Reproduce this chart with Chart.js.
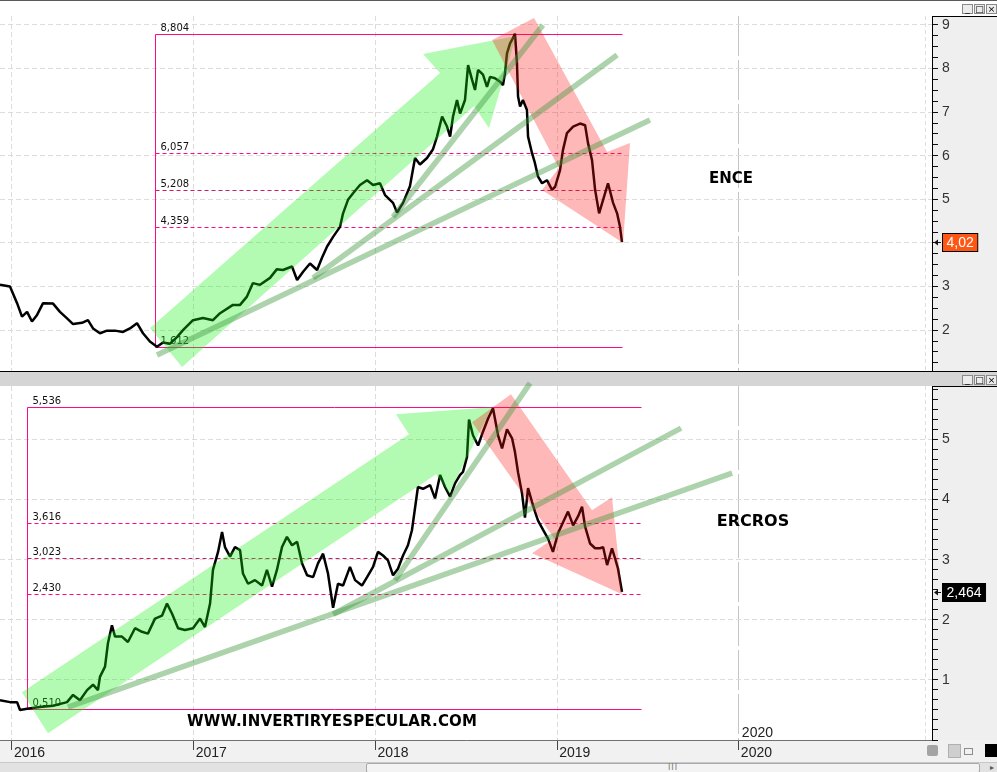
<!DOCTYPE html>
<html>
<head>
<meta charset="utf-8">
<title>ENCE / ERCROS</title>
<script src="https://cdn.jsdelivr.net/npm/chart.js@4.4.1/dist/chart.umd.min.js"></script>
<style>
  html, body { margin: 0; padding: 0; background: #fff; }
  #wrap { position: relative; width: 997px; height: 772px; overflow: hidden; background: #fff; }
  #wrap canvas { position: absolute; left: 0; }
  #topLine { position: absolute; left: 0; top: 0; width: 997px; height: 1px; background: #5a5a5a; }
  #sep { position: absolute; left: 0; top: 371px; width: 997px; height: 1px; background: #000; }
  .btns { position: absolute; left: 962px; width: 35px; height: 10px; }
  .btns span { position: absolute; top: 0; width: 9px; height: 8px; border: 1px solid #8a8a8a; background: #ececec;
               font: 9px/8px 'DejaVu Sans', sans-serif; text-align: center; color: #000; }
  #icons div { position: absolute; }
  #scroll { position: absolute; left: 0; top: 762px; width: 997px; height: 10px; background: #e2e2e2; border-top: 1px solid #c8c8c8; }
  #thumb { position: absolute; left: 366px; top: 0; width: 612px; height: 8px; background: #f3f3f3; border: 1px solid #a8a8a8; border-radius: 2px;
           font: 8px/8px 'DejaVu Sans', sans-serif; color: #777; }
  #thumb span { position: absolute; left: 301px; top: 0; letter-spacing: 1px; }
  #scroll .arr { position: absolute; left: 990px; top: 0; font: 8px/9px 'DejaVu Sans', sans-serif; color: #555; }
</style>
</head>
<body>
<div id="wrap">
  <div id="topLine"></div>
  <canvas id="topChart" width="997" height="372" style="top:0"></canvas>
  <canvas id="botChart" width="997" height="390" style="top:372px"></canvas>
  <div id="sep"></div>
  <div class="btns" style="top:4px"><span style="left:0">_</span><span style="left:12px">□</span><span style="left:24px">×</span></div>
  <div class="btns" style="top:375px"><span style="left:0">_</span><span style="left:12px">□</span><span style="left:24px">×</span></div>
  <div id="icons">
    <div style="left:927px;top:745px;width:11px;height:11px;background:#a4a4a4;border-radius:2px"></div>
    <div style="left:948px;top:744px;width:11px;height:12px;background:#cfcfcf;border:1px solid #b0b0b0"></div>
    <div style="left:964px;top:748px;width:7px;height:5px;border:1px solid #8c8c8c"></div>
    <div style="left:985px;top:744px;width:12px;height:13px;background:#000"></div>
  </div>
  <div id="scroll"><div id="thumb"><span>III</span></div><span class="arr">&#9656;</span></div>
</div>

<script>
// ENCE, cierre aproximado (fecha en años decimales)
const enceDates = [
  2015.934, 2015.989, 2016.028, 2016.055, 2016.083, 2016.110, 2016.138, 2016.171, 2016.226, 2016.264,
  2016.303, 2016.336, 2016.385, 2016.418, 2016.446, 2016.484, 2016.523, 2016.567, 2016.611, 2016.649,
  2016.688, 2016.721, 2016.759, 2016.798, 2016.831, 2016.870, 2016.908, 2016.941, 2016.996, 2017.051,
  2017.106, 2017.145, 2017.216, 2017.255, 2017.293, 2017.326, 2017.365, 2017.420, 2017.458, 2017.491,
  2017.541, 2017.569, 2017.602, 2017.640, 2017.679, 2017.706, 2017.734, 2017.767, 2017.805, 2017.822,
  2017.849, 2017.877, 2017.915, 2017.954, 2017.987, 2018.025, 2018.053, 2018.097, 2018.119, 2018.152,
  2018.190, 2018.218, 2018.245, 2018.284, 2018.317, 2018.339, 2018.367, 2018.394, 2018.411, 2018.427,
  2018.449, 2018.466, 2018.493, 2018.510, 2018.532, 2018.548, 2018.565, 2018.592, 2018.614, 2018.631,
  2018.658, 2018.686, 2018.702, 2018.713, 2018.724, 2018.741, 2018.757, 2018.768, 2018.779, 2018.785,
  2018.796, 2018.812, 2018.834, 2018.840, 2018.862, 2018.878, 2018.895, 2018.917, 2018.944, 2018.972,
  2018.989, 2019.016, 2019.032, 2019.054, 2019.088, 2019.126, 2019.154, 2019.170, 2019.192, 2019.209,
  2019.231, 2019.253, 2019.280, 2019.308, 2019.330, 2019.346, 2019.357
];
const enceClose = [
  3.04, 3.00, 2.62, 2.31, 2.42, 2.20, 2.35, 2.62, 2.61, 2.42,
  2.27, 2.14, 2.17, 2.23, 2.04, 1.93, 1.99, 1.99, 1.96, 2.04,
  2.16, 1.93, 1.74, 1.62, 1.72, 1.69, 1.84, 2.00, 2.23, 2.28,
  2.23, 2.39, 2.58, 2.58, 2.77, 3.08, 3.04, 3.20, 3.40, 3.38,
  3.46, 3.15, 3.34, 3.53, 3.38, 3.66, 3.92, 4.14, 4.37, 4.68,
  4.99, 5.14, 5.33, 5.44, 5.33, 5.37, 5.10, 4.92, 4.70, 4.92,
  5.30, 5.95, 5.80, 5.95, 6.15, 6.44, 6.90, 6.67, 6.44, 6.90,
  7.28, 6.97, 7.28, 8.08, 7.74, 7.51, 7.97, 7.86, 7.58, 7.81,
  7.78, 7.70, 7.62, 7.89, 8.35, 8.58, 8.70, 8.80, 8.12, 7.36,
  7.13, 7.28, 7.05, 6.44, 6.06, 5.83, 5.52, 5.37, 5.44, 5.22,
  5.29, 5.67, 6.13, 6.52, 6.67, 6.74, 6.70, 6.29, 5.90, 5.22,
  4.68, 4.99, 5.37, 4.92, 4.68, 4.37, 4.02
];

// ERCROS, cierre aproximado
const ercrosDates = [
  2015.934, 2015.989, 2016.028, 2016.044, 2016.083, 2016.154, 2016.226, 2016.303, 2016.336, 2016.374,
  2016.413, 2016.446, 2016.473, 2016.484, 2016.512, 2016.528, 2016.550, 2016.567, 2016.605, 2016.638,
  2016.677, 2016.715, 2016.748, 2016.787, 2016.826, 2016.853, 2016.881, 2016.914, 2016.952, 2016.996,
  2017.035, 2017.062, 2017.090, 2017.106, 2017.134, 2017.156, 2017.172, 2017.200, 2017.227, 2017.255,
  2017.271, 2017.299, 2017.337, 2017.376, 2017.403, 2017.431, 2017.458, 2017.486, 2017.513, 2017.541,
  2017.569, 2017.596, 2017.624, 2017.657, 2017.684, 2017.712, 2017.739, 2017.767, 2017.794, 2017.822,
  2017.860, 2017.888, 2017.926, 2017.954, 2017.987, 2018.014, 2018.042, 2018.069, 2018.097, 2018.124,
  2018.152, 2018.179, 2018.201, 2018.218, 2018.234, 2018.262, 2018.301, 2018.328, 2018.356, 2018.383,
  2018.411, 2018.438, 2018.466, 2018.482, 2018.504, 2018.515, 2018.537, 2018.565, 2018.592, 2018.620,
  2018.647, 2018.675, 2018.697, 2018.724, 2018.752, 2018.768, 2018.785, 2018.807, 2018.823, 2018.840,
  2018.862, 2018.878, 2018.895, 2018.922, 2018.950, 2018.977, 2019.005, 2019.032, 2019.060, 2019.088,
  2019.115, 2019.137, 2019.154, 2019.181, 2019.209, 2019.236, 2019.253, 2019.275, 2019.302, 2019.319,
  2019.335, 2019.357
];
const ercrosClose = [
  0.66, 0.63, 0.63, 0.50, 0.52, 0.55, 0.57, 0.63, 0.75, 0.66,
  0.83, 0.92, 0.83, 1.05, 1.22, 1.61, 1.91, 1.72, 1.72, 1.63,
  1.86, 1.80, 1.77, 2.02, 2.07, 2.27, 2.10, 1.86, 1.83, 1.86,
  2.02, 1.88, 2.27, 2.83, 3.13, 3.46, 3.21, 3.05, 3.21, 3.16,
  2.77, 2.60, 2.66, 2.57, 2.83, 2.55, 2.83, 3.21, 3.38, 3.24,
  3.30, 2.94, 2.74, 2.71, 2.94, 3.10, 2.77, 2.20, 2.60, 2.57,
  2.88, 2.66, 2.57, 2.71, 2.88, 3.13, 3.07, 2.99, 2.74, 2.85,
  3.07, 3.24, 3.49, 3.86, 4.21, 4.18, 4.24, 4.02, 4.41, 4.21,
  4.05, 4.27, 4.41, 4.46, 4.71, 5.33, 5.07, 4.90, 5.13, 5.35,
  5.52, 5.07, 4.85, 5.17, 5.02, 4.79, 4.45, 4.10, 3.70, 4.19,
  3.96, 3.80, 3.65, 3.50, 3.35, 3.13, 3.44, 3.62, 3.80, 3.57,
  3.72, 3.88, 3.55, 3.27, 3.19, 3.19, 3.21, 2.91, 3.19, 3.02,
  2.85, 2.464
];

const yearTicks = [2016, 2017, 2018, 2019, 2020];

// retrocesos de Fibonacci: niveles y tramo de fechas que cubren
const enceFib = [8.804, 6.057, 5.208, 4.359, 1.612];
const enceFibSpan = [2016.787, 2019.357];
const ercrosFib = [5.536, 3.616, 3.023, 2.430, 0.510];
const ercrosFibSpan = [2016.080, 2019.462];

// flechas y directrices dibujadas a mano (fecha, precio)
const enceUpArrow = [[2016.760, 2.050], [2018.356, 7.899], [2018.262, 8.335], [2018.774, 8.748], [2018.625, 6.638], [2018.543, 7.142], [2016.936, 1.156]];
const enceDownArrow = [[2018.642, 8.656], [2018.873, 9.161], [2019.275, 6.087], [2019.401, 6.294], [2019.363, 4.000], [2018.917, 5.216], [2019.010, 5.720]];
const enceTrends = [[[2016.798, 1.431], [2019.511, 6.821]], [[2017.657, 3.197], [2019.330, 8.312]], [[2018.097, 4.596], [2018.922, 9.000]]];
const ercrosUpArrow = [[2016.055, 0.795], [2018.185, 5.088], [2018.113, 5.421], [2018.642, 5.537], [2018.405, 4.107], [2018.334, 4.423], [2016.198, 0.113]];
const ercrosDownArrow = [[2018.532, 5.288], [2018.746, 5.754], [2019.192, 3.824], [2019.302, 4.040], [2019.357, 2.426], [2018.862, 3.108], [2018.983, 3.358]];
const ercrosTrends = [[[2016.308, 0.546], [2019.963, 4.439]], [[2017.767, 2.093], [2019.682, 5.188]], [[2018.108, 2.659], [2018.851, 5.937]]];

const X_MIN = 2015.934, X_MAX = 2021.063;
const FONT = "'Liberation Sans', Arial, sans-serif";

function toPx(chart, p) {
  return [chart.scales.x.getPixelForValue(p[0]), chart.scales.y.getPixelForValue(p[1])];
}

function fillPoly(ctx, chart, pts, color) {
  ctx.beginPath();
  pts.forEach(function (p, i) {
    const q = toPx(chart, p);
    if (i) ctx.lineTo(q[0], q[1]); else ctx.moveTo(q[0], q[1]);
  });
  ctx.closePath();
  ctx.fillStyle = color;
  ctx.fill();
}

// caption stretched to the width it takes in the original
function spacedText(ctx, text, cx, cy, width) {
  const w = ctx.measureText(text).width;
  const hasLS = 'letterSpacing' in ctx;
  const gap = hasLS ? Math.max(0, (width - w) / (text.length - 1)) : 0;
  if (hasLS) ctx.letterSpacing = gap + 'px';
  ctx.textAlign = 'left';
  ctx.textBaseline = 'middle';
  ctx.fillText(text, cx - (w + gap * (text.length - 1)) / 2, cy);
  if (hasLS) ctx.letterSpacing = '0px';
}

function panelPlugin(o) {
  return {
    id: 'panel',
    beforeDraw(chart) {
      const ctx = chart.ctx, ca = chart.chartArea, W = chart.width, H = chart.height;
      ctx.save();
      if (o.header) {
        ctx.fillStyle = '#d5d5d5';
        ctx.fillRect(0, 0, W, ca.top);
      }
      ctx.fillStyle = '#efefef';
      ctx.fillRect(ca.right, ca.top, W - ca.right, ca.bottom - ca.top);
      ctx.fillStyle = '#000';
      ctx.fillRect(ca.right, ca.top, W - ca.right, 1);
      if (H - ca.bottom > 2) {
        ctx.fillStyle = '#f1f1f1';
        ctx.fillRect(0, ca.bottom, W, H - ca.bottom);
      }
      ctx.restore();
    },
    beforeDatasetsDraw(chart) {
      const ctx = chart.ctx, ca = chart.chartArea;
      const xs = chart.scales.x, ys = chart.scales.y;
      ctx.save();
      // faint dashed line near the price axis
      ctx.strokeStyle = '#dedede';
      ctx.lineWidth = 1;
      ctx.setLineDash([4, 3]);
      ctx.beginPath();
      ctx.moveTo(ca.right - 6.5, ca.top);
      ctx.lineTo(ca.right - 6.5, ca.bottom);
      ctx.stroke();

      // Fibonacci box
      const x0 = Math.round(xs.getPixelForValue(o.fibSpan[0])) + 0.5;
      const x1 = Math.round(xs.getPixelForValue(o.fibSpan[1])) + 0.5;
      const last = o.fib.length - 1;
      ctx.font = "10px 'DejaVu Sans', sans-serif";
      ctx.textAlign = 'left';
      ctx.textBaseline = 'alphabetic';
      o.fib.forEach(function (v, i) {
        const y = Math.round(ys.getPixelForValue(v)) + 0.5;
        const solid = (i === 0 || i === last);
        ctx.setLineDash(solid ? [] : [4, 3]);
        ctx.strokeStyle = (i === 2) ? '#c81c64' : '#ff0a84';
        ctx.beginPath();
        ctx.moveTo(x0, y);
        ctx.lineTo(x1, y);
        ctx.stroke();
        ctx.fillStyle = '#111';
        ctx.fillText(v.toFixed(3).replace('.', ','), x0 + 5, y - 4);
      });
      ctx.setLineDash([]);
      ctx.strokeStyle = '#ff0a84';
      ctx.beginPath();
      ctx.moveTo(x0, Math.round(ys.getPixelForValue(o.fib[0])) + 0.5);
      ctx.lineTo(x0, Math.round(ys.getPixelForValue(o.fib[last])) + 0.5);
      ctx.stroke();
      ctx.restore();
    },
    afterDatasetsDraw(chart) {
      const ctx = chart.ctx, ca = chart.chartArea;
      const xs = chart.scales.x, ys = chart.scales.y;
      ctx.save();
      fillPoly(ctx, chart, o.up, 'rgba(20,240,20,0.32)');
      fillPoly(ctx, chart, o.down, 'rgba(255,20,20,0.30)');

      ctx.strokeStyle = 'rgba(60,150,60,0.42)';
      ctx.lineWidth = 5.5;
      ctx.lineCap = 'butt';
      o.trends.forEach(function (seg) {
        const a = toPx(chart, seg[0]), b = toPx(chart, seg[1]);
        ctx.beginPath();
        ctx.moveTo(a[0], a[1]);
        ctx.lineTo(b[0], b[1]);
        ctx.stroke();
      });

      ctx.fillStyle = '#000';
      o.captions.forEach(function (c) {
        ctx.font = 'bold ' + c.size + "px 'DejaVu Sans', sans-serif";
        spacedText(ctx, c.text, xs.getPixelForValue(c.at[0]), ys.getPixelForValue(c.at[1]), c.width);
      });

      if (o.yearNote) {
        ctx.font = '14px ' + FONT;
        ctx.fillStyle = '#222';
        ctx.textAlign = 'left';
        ctx.textBaseline = 'bottom';
        ctx.fillText(String(o.yearNote), xs.getPixelForValue(o.yearNote) + 3, ca.bottom);
      }

      // last price tag on the axis
      const lastVal = o.close[o.close.length - 1];
      const label = lastVal.toFixed(o.decimals).replace('.', ',');
      const y = Math.round(ys.getPixelForValue(lastVal));
      ctx.font = '14px ' + FONT;
      const bw = ctx.measureText(label).width + 8;
      const bx = ca.right + 10.5;
      ctx.fillStyle = o.tagColor;
      ctx.fillRect(bx, y - 8.5, bw, 18);
      ctx.strokeStyle = '#000';
      ctx.lineWidth = 1;
      ctx.strokeRect(bx, y - 8.5, bw, 18);
      ctx.fillStyle = '#fff';
      ctx.textAlign = 'left';
      ctx.textBaseline = 'middle';
      ctx.fillText(label, bx + 4, y + 1);
      ctx.strokeStyle = '#111';
      ctx.beginPath();
      ctx.moveTo(ca.right + 3, y + 0.5);
      ctx.lineTo(ca.right + 9, y + 0.5);
      ctx.stroke();
      ctx.fillStyle = '#111';
      ctx.beginPath();
      ctx.moveTo(ca.right + 2, y + 0.5);
      ctx.lineTo(ca.right + 6, y - 2.5);
      ctx.lineTo(ca.right + 6, y + 3.5);
      ctx.closePath();
      ctx.fill();
      ctx.restore();
    }
  };
}

function makeOptions(o) {
  return {
    responsive: false,
    animation: false,
    events: [],
    layout: { padding: o.padding },
    plugins: { legend: { display: false }, tooltip: { enabled: false } },
    scales: {
      x: {
        type: 'linear',
        min: X_MIN,
        max: X_MAX,
        afterBuildTicks: function (s) { s.ticks = yearTicks.map(function (v) { return { value: v }; }); },
        afterFit: function (s) { s.height = o.showX ? 22 : 0; s.paddingLeft = 0; s.paddingRight = 0; },
        ticks: {
          display: o.showX, autoSkip: false, maxRotation: 0, align: 'start', labelOffset: 2, padding: -5,
          color: '#222', font: { family: FONT, size: 14 },
          callback: function (v) { return String(v); }
        },
        grid: {
          color: function (c) { return (c.tick && c.tick.value === 2020) ? '#c4c4c4' : '#dcdcdc'; },
          drawTicks: o.showX, tickLength: 10, tickColor: '#444'
        },
        border: {
          display: o.showX, color: '#707070',
          dash: function (c) { return (c.tick && c.tick.value === 2020) ? [40, 4] : [5, 3]; }
        }
      },
      y: {
        position: 'right',
        min: o.yMin,
        max: o.yMax,
        afterBuildTicks: function (s) {
          const t = [];
          for (let k = Math.ceil(s.min * o.ySub); k <= Math.floor(s.max * o.ySub); k++) t.push({ value: k / o.ySub });
          s.ticks = t;
        },
        afterFit: function (s) { s.width = 65; s.paddingTop = 0; s.paddingBottom = 0; },
        ticks: {
          autoSkip: false, padding: 4, color: '#333', font: { family: FONT, size: 14 },
          callback: function (v) { return (Number.isInteger(v) && v > 0) ? String(v) : ''; }
        },
        grid: {
          color: function (c) { return (c.tick && Number.isInteger(c.tick.value)) ? '#dcdcdc' : 'rgba(0,0,0,0)'; },
          drawTicks: true, tickLength: 6, tickColor: '#111'
        },
        border: { color: '#000', width: 1, dash: [5, 3] }
      }
    }
  };
}

function priceDataset(dates, close) {
  return {
    data: dates.map(function (d, i) { return { x: d, y: close[i] }; }),
    borderColor: '#000',
    borderWidth: 2.5,
    borderJoinStyle: 'bevel',
    pointRadius: 0,
    tension: 0
  };
}

new Chart(document.getElementById('topChart'), {
  type: 'line',
  data: { datasets: [priceDataset(enceDates, enceClose)] },
  options: makeOptions({ yMin: 1.064, yMax: 9.206, ySub: 4, showX: false, padding: { top: 16, right: 0, bottom: 1, left: 0 } }),
  plugins: [panelPlugin({
    header: false, close: enceClose, decimals: 2, tagColor: '#ff5614',
    fib: enceFib, fibSpan: enceFibSpan, up: enceUpArrow, down: enceDownArrow, trends: enceTrends,
    captions: [{ text: 'ENCE', at: [2019.957, 5.468], size: 15, width: 44 }]
  })]
});

new Chart(document.getElementById('botChart'), {
  type: 'line',
  data: { datasets: [priceDataset(ercrosDates, ercrosClose)] },
  options: makeOptions({ yMin: 0, yMax: 5.89, ySub: 6, showX: true, padding: { top: 14, right: 0, bottom: 0, left: 0 } }),
  plugins: [panelPlugin({
    header: true, close: ercrosClose, decimals: 3, tagColor: '#000', yearNote: 2020,
    fib: ercrosFib, fibSpan: ercrosFibSpan, up: ercrosUpArrow, down: ercrosDownArrow, trends: ercrosTrends,
    captions: [
      { text: 'ERCROS', at: [2020.078, 3.624], size: 16, width: 70 },
      { text: 'WWW.INVERTIRYESPECULAR.COM', at: [2017.761, 0.296], size: 15, width: 290 }
    ]
  })]
});
</script>
</body>
</html>
